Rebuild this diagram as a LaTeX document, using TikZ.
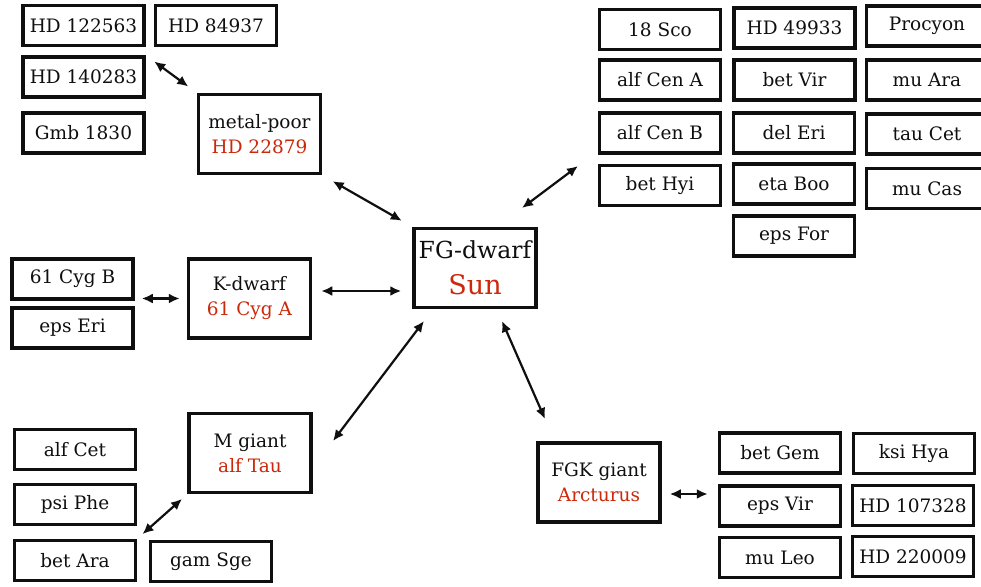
\documentclass[tikz,border=0pt]{standalone}
\usepackage{fontspec}
\setmainfont{DejaVu Serif}
\usetikzlibrary{arrows.meta,calc}
\definecolor{starred}{RGB}{204,40,10}
\definecolor{inkc}{RGB}{15,15,15}
\begin{document}
\begin{tikzpicture}[x=1pt,y=-1pt,
  sbox/.style={draw=inkc,line width=3.5pt,minimum width=121pt,minimum height=40pt,inner sep=0pt,
    text=inkc,font=\fontsize{18.5}{22}\selectfont},
  gbox/.style={draw=inkc,line width=3.5pt,minimum width=122pt,minimum height=79pt,inner sep=0pt,
    align=center,text=inkc,font=\fontsize{18.5}{25}\selectfont},
  biarrow/.style={draw=inkc,line width=2.2pt,{Latex[length=11pt,width=10pt]}-{Latex[length=11pt,width=10pt]}}]
\clip (0,0) rectangle (981,586);
\fill[white] (0,0) rectangle (981,586);
% central
\node[gbox,font=\fontsize{23.5}{36}\selectfont] (fg) at (475,268)
  {FG-dwarf\\\textcolor{starred}{\fontsize{27}{36}\selectfont Sun}};
% group nodes
\node[gbox] (mp) at (259.5,134) {metal-poor\\\textcolor{starred}{HD 22879}};
\node[gbox] (kd) at (249.5,298.5) {K-dwarf\\\textcolor{starred}{61 Cyg A}};
\node[gbox] (mg) at (250,453) {M giant\\\textcolor{starred}{alf Tau}};
\node[gbox] (fgk) at (599,482.5) {FGK giant\\\textcolor{starred}{Arcturus}};
% metal-poor group
\node[sbox] (hd122563) at (83.5,25.5) {HD 122563};
\node[sbox] (hd84937) at (216,25.5) {HD 84937};
\node[sbox] (hd140283) at (83.5,77) {HD 140283};
\node[sbox] (gmb1830) at (83.5,133) {Gmb 1830};
% FG-dwarf group
\node[sbox] (sco18) at (660,29.5) {18 Sco};
\node[sbox] (alfcenA) at (660,80) {alf Cen A};
\node[sbox] (alfcenB) at (660,133) {alf Cen B};
\node[sbox] (betHyi) at (660,185.5) {bet Hyi};
\node[sbox] (hd49933) at (794.5,28) {HD 49933};
\node[sbox] (betVir) at (794.5,80) {bet Vir};
\node[sbox] (delEri) at (794,133) {del Eri};
\node[sbox] (etaBoo) at (794,184) {eta Boo};
\node[sbox] (epsFor) at (794,236) {eps For};
\node[sbox] (procyon) at (927,26) {Procyon};
\node[sbox] (muAra) at (927,80) {mu Ara};
\node[sbox] (tauCet) at (927,134) {tau Cet};
\node[sbox] (muCas) at (927,188.5) {mu Cas};
% K-dwarf group
\node[sbox] (cygB) at (72.5,279) {61 Cyg B};
\node[sbox] (epsEri) at (72.5,328) {eps Eri};
% M giant group
\node[sbox] (alfCet) at (75,449.5) {alf Cet};
\node[sbox] (psiPhe) at (75,504.5) {psi Phe};
\node[sbox] (betAra) at (75,560.5) {bet Ara};
\node[sbox] (gamSge) at (211,561.5) {gam Sge};
% FGK giant group
\node[sbox] (betGem) at (780,453) {bet Gem};
\node[sbox] (epsVir) at (780,506) {eps Vir};
\node[sbox] (muLeo) at (780,557.5) {mu Leo};
\node[sbox] (ksiHya) at (914,453.5) {ksi Hya};
\node[sbox] (hd107328) at (913,505.5) {HD 107328};
\node[sbox] (hd220009) at (913,556.5) {HD 220009};
% connector ends
\coordinate (fgA) at (522,208);
\coordinate (rgA) at (578,166);
\coordinate (fgB) at (424,321);
\coordinate (mgB) at (333,441);
\coordinate (fgC) at (502,321);
\coordinate (fgkC) at (545,419);
% connectors
\draw[biarrow,shorten <=10.5pt,shorten >=10.5pt] (hd140283.north east) -- (mp.north west);
\draw[biarrow,shorten <=12pt,shorten >=12pt] (mp.south east) -- (fg.north west);
\draw[biarrow] (fgA) -- (rgA);
\draw[biarrow,shorten <=9pt,shorten >=11pt] ([yshift=7.5pt]kd.east) -- ([yshift=-23pt]fg.west);
\draw[biarrow] (fgB) -- (mgB);
\draw[biarrow] (fgC) -- (fgkC);
\draw[biarrow,shorten <=7pt,shorten >=7pt] (kd.west) -- (kd.west -| cygB.east);
\draw[biarrow,shorten <=7pt,shorten >=7pt] (betAra.north east) -- (mg.south west);
\draw[biarrow,shorten <=8pt,shorten >=10pt] ([yshift=-11.5pt]fgk.east) -- ([yshift=-11.5pt]fgk.east -| epsVir.west);
\end{tikzpicture}
\end{document}
